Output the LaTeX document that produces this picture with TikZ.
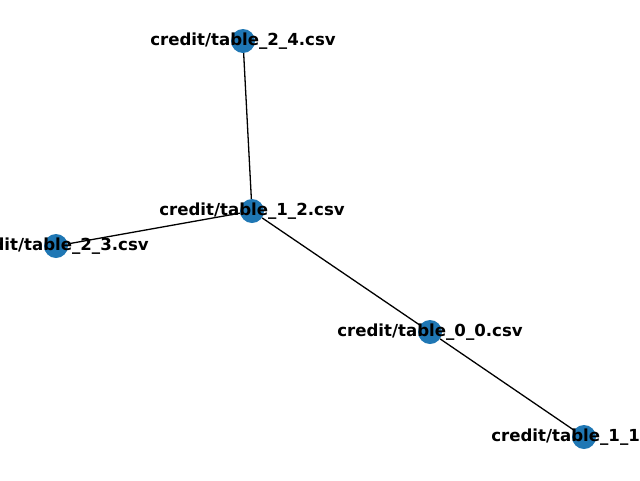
\documentclass[tikz,border=0pt]{standalone}
\usepackage{fontspec}
\setmainfont{DejaVu Sans}
\definecolor{nodeblue}{HTML}{1F77B4}
\begin{document}
\begin{tikzpicture}[
  x = 1pt,
  y = -1pt,
  vertex/.style={circle, fill=nodeblue, minimum size=24pt, inner sep=0pt},
  edge/.style={black, line width=1.3pt},
  lbl/.style={font=\fontsize{16.6}{20}\selectfont\bfseries, inner sep=0pt}
]
%canvas
\useasboundingbox (0,0) rectangle (640,480);
\clip (0,0) rectangle (640,480);

%vertices
\node[vertex] (t24) at (243, 41) {};
\node[vertex] (t12) at (252, 211) {};
\node[vertex] (t23) at (56, 246) {};
\node[vertex] (t00) at (430, 332) {};
\node[vertex] (t11) at (584, 437) {};

%edges
\draw[edge] (t24) -- (t12);
\draw[edge] (t12) -- (t23);
\draw[edge] (t12) -- (t00);
\draw[edge] (t00) -- (t11);

%labels
\node[lbl] (l24) at (t24) {credit/table\_2\_4.csv};
\node[lbl] (l12) at (t12) {credit/table\_1\_2.csv};
\node[lbl] (l23) at (t23) {credit/table\_2\_3.csv};
\node[lbl] (l00) at (t00) {credit/table\_0\_0.csv};
\node[lbl] (l11) at (t11) {credit/table\_1\_1.csv};

\end{tikzpicture}
\end{document}
